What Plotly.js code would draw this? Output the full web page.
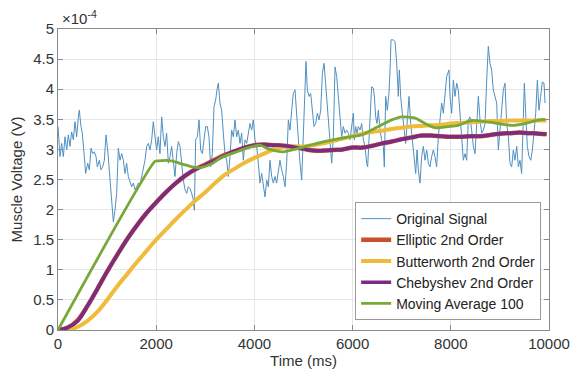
<!DOCTYPE html>
<html>
<head>
<meta charset="utf-8">
<script src="https://cdn.plot.ly/plotly-3.0.1.min.js"></script>
<style>html,body{margin:0;padding:0;background:#fff;}#chart{width:574px;height:370px;}</style>
</head>
<body>
<div id="chart"></div>
<script>
// Values in units of 1e-4 V (axis shows ×10^-4)
var signalTimeMs = [0,41,75,109,143,177,210,244,278,312,346,380,414,434,468,495,536,563,604,638,672,706,740,774,801,842,876,910,944,978,1012,1045,1079,1106,1127,1161,1195,1229,1263,1297,1331,1365,1398,1432,1466,1500,1534,1568,1602,1636,1670,1704,1738,1772,1806,1840,1874,1908,1941,
1976,2009,2043,2077,2111,2145,2179,2213,2247,2281,2315,2349,2383,2417,2451,2485,2519,2553,2587,2621,2654,2688,2722,2756,2777,2804,2838,2872,2906,2940,2974,3008,3041,3075,3109,3143,3177,3211,3238,3265,3299,3333,3367,3401,3435,3469,3503,3537,3571,3605,3639,3673,3707,3741,3775,3809,3843,3876,
3910,3944,3978,4012,4046,4080,4114,4148,4182,4216,4250,4284,4318,4352,4386,4420,4453,4487,4521,4555,4589,4623,4657,4691,4725,4759,4793,4827,4861,4895,4929,4963,4997,5031,5051,5078,5112,5146,5180,5214,5248,5282,5316,5350,5384,5418,5445,5472,5506,5540,5574,5608,5642,5676,5709,5743,5777,5811,5845,5879,5913,
5947,5981,6015,6035,6062,6090,6117,6151,6185,6219,6253,6287,6307,6334,6361,6388,6422,6443,6470,6497,6524,6558,6592,6626,6646,6674,6707,6741,6768,6782,6830,6864,6898,6931,6952,6979,7013,7047,7081,7115,7149,7183,7217,7251,7285,7312,7339,7373,7407,7441,7475,7509,7543,7576,7610,7644,7678,7712,7746,7780,7814,7848,7882,7916,
7963,7984,8018,8052,8086,8120,8153,8187,8221,8255,8289,8323,8357,8391,8425,8459,8493,8527,8561,8595,8629,8663,8697,8731,8764,8798,8832,8866,8900,8934,8968,9002,9036,9070,9104,9138,9172,9206,9240,9274,9308,9342,9376,9409,9443,9477,9498,9525,9559,9593,9627,9661,9695,9729,9763,9796,9830,9864,9898,9919];
var originalSignal = [3.38,2.88,3.10,2.88,3.21,2.99,3.24,3.05,3.29,3.16,3.46,3.21,3.54,3.65,3.38,3.27,2.88,2.60,2.77,2.66,3.02,2.93,2.96,2.88,2.71,2.82,2.66,2.71,2.82,3.24,2.99,2.60,2.27,1.88,1.80,1.99,2.27,3.02,2.82,2.93,2.82,2.60,2.77,2.55,2.44,2.38,2.44,2.33,2.38,2.44,2.41,2.55,2.66,2.82,3.05,3.10,2.99,3.16,3.46,
3.16,2.99,3.21,2.93,3.54,3.21,3.05,3.27,2.77,2.88,3.05,2.82,2.55,2.93,3.13,3.05,2.71,2.49,2.33,2.27,2.38,2.35,2.27,2.16,1.99,3.16,3.21,3.49,2.99,2.93,3.16,3.38,3.38,3.21,2.71,2.93,3.71,3.82,3.99,4.10,3.77,3.65,3.27,2.93,2.82,2.55,2.88,3.32,3.21,3.49,3.21,3.32,3.10,3.27,2.82,3.16,3.10,3.27,
3.43,3.32,3.49,3.16,3.05,2.77,2.44,2.60,2.38,2.21,2.49,2.38,2.82,2.55,2.44,2.55,2.44,2.66,2.82,2.66,2.55,2.38,2.77,3.49,3.32,3.65,3.93,3.99,3.54,3.16,2.77,2.49,3.16,4.10,4.46,3.99,3.88,3.93,3.60,3.38,3.43,3.60,3.49,3.65,4.26,4.43,4.15,3.88,3.49,3.16,2.77,3.21,4.37,4.21,3.88,3.43,3.21,3.38,3.27,3.32,3.27,
3.16,3.43,3.60,3.16,3.38,3.27,3.38,3.32,3.43,3.16,3.05,2.77,2.71,3.16,3.60,4.04,4.02,3.88,3.54,3.43,3.65,3.32,3.16,3.05,2.71,3.88,3.65,3.93,4.43,4.82,4.82,4.79,4.43,3.88,4.32,3.88,3.60,3.32,3.10,3.49,3.88,3.43,3.10,2.88,2.60,2.99,2.66,2.44,2.88,3.05,2.82,2.99,2.77,2.71,2.88,2.99,2.88,2.71,3.21,3.49,3.77,3.60,3.99,4.21,
4.32,3.88,3.60,4.15,3.88,4.10,3.99,3.60,3.16,2.82,2.93,2.82,3.49,3.54,3.32,3.05,2.93,3.49,3.88,3.49,3.27,3.32,3.43,4.15,4.71,4.43,4.32,3.99,3.88,3.77,2.99,3.38,3.71,3.99,4.10,3.43,3.21,2.77,2.71,2.99,2.82,3.05,2.71,2.82,2.60,3.60,4.10,3.60,3.05,2.88,2.82,2.99,3.32,3.60,4.15,3.65,3.88,4.12,4.10,3.77];

var filterTimeMs = [0,200,400,600,800,1000,1200,1400,1600,1800,2000,2200,2400,2600,2800,3000,3200,3400,3600,3800,4000,4200,4400,4600,4800,5000,5200,5400,5600,5800,6000,6200,6400,6600,6800,7000,7200,7400,7600,7800,8000,8200,8400,8600,8800,9000,9200,9400,9600,9800,9950];
var elliptic2nd = [0,0.04,0.16,0.40,0.68,0.97,1.24,1.50,1.73,1.94,2.12,2.29,2.44,2.57,2.67,2.75,2.83,2.91,2.97,3.03,3.07,3.08,3.07,3.06,3.04,3.01,2.98,2.98,2.99,3.00,3.03,3.03,3.06,3.10,3.13,3.17,3.20,3.23,3.23,3.22,3.21,3.21,3.22,3.22,3.24,3.26,3.27,3.28,3.27,3.26,3.25];
var butterworth2nd = [0,0.01,0.05,0.15,0.30,0.50,0.72,0.92,1.12,1.31,1.50,1.67,1.84,2.00,2.15,2.29,2.44,2.58,2.68,2.78,2.86,2.93,3.00,3.04,3.05,3.05,3.07,3.10,3.14,3.18,3.22,3.26,3.29,3.31,3.34,3.36,3.38,3.39,3.40,3.41,3.43,3.44,3.45,3.46,3.47,3.47,3.48,3.48,3.48,3.48,3.48];
var chebyshev2nd = [0,0.04,0.15,0.40,0.68,0.97,1.24,1.50,1.73,1.94,2.12,2.29,2.44,2.57,2.67,2.74,2.82,2.90,2.97,3.03,3.07,3.08,3.07,3.06,3.04,3.01,2.98,2.98,2.99,3.00,3.03,3.03,3.06,3.10,3.13,3.17,3.20,3.23,3.23,3.22,3.21,3.21,3.22,3.22,3.24,3.26,3.27,3.28,3.27,3.26,3.25];

var movAvgTimeMs = [0,1975,2043,2315,2519,2790,2926,3130,3333,3605,3800,4012,4114,4318,4589,4861,5133,5418,5676,5947,6185,6524,6798,6999,7278,7475,7678,7950,8153,8425,8697,8968,9240,9511,9796,9919];
var movingAverage100 = [0,2.80,2.81,2.81,2.76,2.70,2.70,2.76,2.87,2.95,3.01,3.06,3.07,3.00,2.96,3.01,3.07,3.13,3.17,3.21,3.24,3.38,3.49,3.54,3.52,3.43,3.36,3.38,3.40,3.48,3.46,3.43,3.40,3.43,3.49,3.50];

var xTicks = [0,2000,4000,6000,8000,10000];
var yTicks = [0,0.5,1,1.5,2,2.5,3,3.5,4,4.5,5];
var seriesNames = ['Original Signal','Elliptic 2nd Order','Butterworth 2nd Order','Chebyshev 2nd Order','Moving Average 100'];

var FONT = 'Liberation Sans, Arial, Helvetica, sans-serif';
var traces = [
  {x: signalTimeMs, y: originalSignal, name: seriesNames[0], mode: 'lines',
   line: {color: '#4f90c2', width: 1}},
  {x: filterTimeMs, y: elliptic2nd, name: seriesNames[1], mode: 'lines',
   line: {color: '#C8502A', width: 4.5, shape: 'spline'}},
  {x: filterTimeMs, y: butterworth2nd, name: seriesNames[2], mode: 'lines',
   line: {color: '#EEBC3A', width: 4, shape: 'spline'}},
  {x: filterTimeMs, y: chebyshev2nd, name: seriesNames[3], mode: 'lines',
   line: {color: '#7A2C85', width: 3.5, shape: 'spline'}},
  {x: movAvgTimeMs, y: movingAverage100, name: seriesNames[4], mode: 'lines',
   line: {color: '#78A83A', width: 2.8, shape: 'spline', smoothing: 0.6}}
];

var layout = {
  width: 574, height: 370,
  margin: {l: 58, r: 25, t: 29, b: 40},
  paper_bgcolor: '#ffffff', plot_bgcolor: '#ffffff',
  font: {family: FONT, color: '#333333', size: 14},
  showlegend: true,
  xaxis: {
    range: [0, 10000], tickvals: xTicks, ticktext: xTicks.map(String),
    ticks: 'inside', ticklen: 5, tickcolor: '#8a8a8a', mirror: 'allticks',
    showline: true, linecolor: '#8a8a8a', linewidth: 1,
    showgrid: true, gridcolor: '#e6e6e6', zeroline: false,
    tickfont: {size: 15, color: '#333333', family: FONT},
    title: {text: 'Time (ms)', font: {size: 15, color: '#333333', family: FONT}, standoff: 2}
  },
  yaxis: {
    range: [0, 5], tickvals: yTicks, ticktext: yTicks.map(String),
    ticks: 'inside', ticklen: 5, tickcolor: '#8a8a8a', mirror: 'allticks',
    showline: true, linecolor: '#8a8a8a', linewidth: 1,
    showgrid: true, gridcolor: '#e6e6e6', zeroline: false,
    tickfont: {size: 15, color: '#333333', family: FONT},
    title: {text: 'Muscle Voltage (V)', font: {size: 15, color: '#333333', family: FONT}, standoff: 6}
  },
  legend: {
    x: 0.984, xanchor: 'right', y: 0.033, yanchor: 'bottom',
    bgcolor: '#ffffff', bordercolor: '#9a9a9a', borderwidth: 1,
    font: {size: 14, color: '#222222', family: FONT},
    tracegroupgap: 0, itemwidth: 30
  },
  annotations: [{
    xref: 'paper', yref: 'paper', x: 0, y: 1, xanchor: 'left', yanchor: 'bottom',
    xshift: 2, yshift: 0, showarrow: false,
    text: '×10<sup>-4</sup>', font: {size: 15, color: '#333333', family: FONT}
  }]
};

Plotly.newPlot('chart', traces, layout, {staticPlot: true, displayModeBar: false});
</script>
</body>
</html>
